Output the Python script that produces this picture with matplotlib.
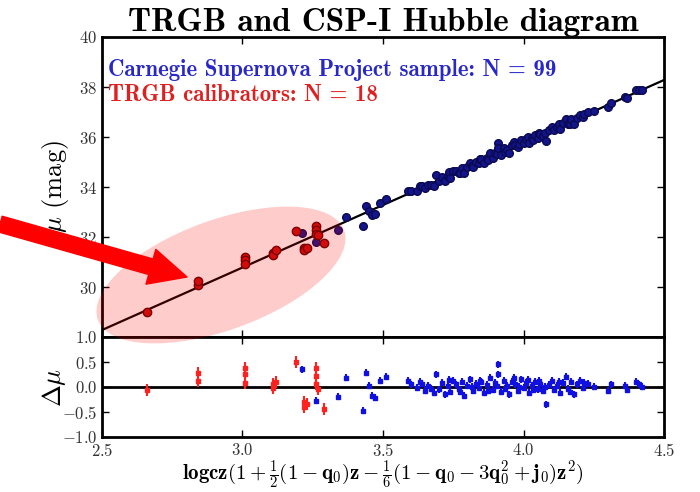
import matplotlib
matplotlib.use("Agg")
import matplotlib.pyplot as plt
import numpy as np
from matplotlib.patches import Ellipse, FancyArrowPatch
from matplotlib.transforms import IdentityTransform

plt.rcParams["font.family"] = "cmr10"
plt.rcParams["mathtext.fontset"] = "cm"
plt.rcParams["axes.formatter.use_mathtext"] = True

# TRGB calibrators: log cz term and Hubble residual
trgb_x = [2.66, 2.84, 2.84, 3.01, 3.01, 3.01, 3.11, 3.11, 3.12,
          3.19, 3.22, 3.22, 3.23, 3.26, 3.26, 3.26, 3.27, 3.29]
trgb_dmu = [-0.07, 0.12, 0.28, 0.38, 0.25, 0.08, 0.05, -0.03, 0.10,
            0.50, -0.30, -0.40, -0.35, 0.38, 0.22, 0.05, -0.05, -0.45]
trgb_err = 0.12

# CSP-I Hubble flow sample
csp_x = [3.21, 3.26, 3.34, 3.37, 3.43, 3.44, 3.45, 3.46, 3.47, 3.49,
         3.51, 3.59, 3.60, 3.62, 3.63, 3.64, 3.65, 3.66, 3.67, 3.68,
         3.69, 3.70, 3.71, 3.72, 3.73, 3.735, 3.74, 3.75, 3.76, 3.77,
         3.775, 3.78, 3.79, 3.80, 3.81, 3.815, 3.82, 3.83, 3.84, 3.845,
         3.85, 3.86, 3.87, 3.875, 3.88, 3.89, 3.90, 3.905, 3.91, 3.91,
         3.92, 3.93, 3.935, 3.94, 3.95, 3.96, 3.965, 3.97, 3.98, 3.985,
         3.99, 4.00, 4.01, 4.015, 4.02, 4.03, 4.035, 4.04, 4.05, 4.055,
         4.06, 4.07, 4.075, 4.08, 4.09, 4.10, 4.11, 4.12, 4.125, 4.13,
         4.14, 4.15, 4.16, 4.165, 4.17, 4.18, 4.19, 4.20, 4.21, 4.215,
         4.23, 4.25, 4.30, 4.31, 4.36, 4.37, 4.40, 4.41, 4.42]
csp_dmu = [0.35, -0.28, -0.20, 0.18, -0.48, 0.28, 0.02, -0.18, -0.22, 0.12,
           0.20, 0.12, 0.05, -0.02, 0.10, 0.06, -0.08, 0.02, -0.04, -0.12,
           0.25, -0.05, 0.08, -0.15, 0.02, 0.14, -0.10, 0.12, 0.05, -0.05,
           -0.10, 0.10, -0.18, 0.02, 0.15, 0.00, -0.08, 0.06, -0.02, 0.12,
           0.10, -0.12, 0.04, -0.08, 0.18, -0.06, 0.08, 0.02, 0.45, 0.25,
           -0.10, 0.12, -0.04, 0.02, -0.15, 0.10, 0.18, 0.05, -0.08, 0.00,
           0.15, -0.02, 0.08, 0.14, -0.12, 0.02, -0.06, 0.10, -0.05, 0.12,
           0.06, -0.08, 0.00, -0.35, 0.04, 0.12, -0.06, 0.02, 0.10, -0.12,
           0.08, 0.20, -0.04, -0.10, 0.10, -0.15, 0.05, 0.12, -0.02, 0.08,
           0.06, 0.00, -0.08, 0.05, 0.02, -0.06, 0.10, 0.05, 0.00]
csp_err = 0.07

# fitted Hubble line: mu = 5 log cz + zp
slope = 5.0
zp = 15.78

trgb_x = np.array(trgb_x)
csp_x = np.array(csp_x)
trgb_mu = slope * trgb_x + zp + np.array(trgb_dmu)
csp_mu = slope * csp_x + zp + np.array(csp_dmu)
xline = np.array([2.5, 4.5])

fig = plt.figure(figsize=(7, 4.92), dpi=100)
ax = fig.add_axes([0.1457, 0.315, 0.8029, 0.6098])
ax2 = fig.add_axes([0.1457, 0.1118, 0.8029, 0.2033])

ax.plot(xline, slope * xline + zp, color="black", lw=1.6, zorder=2)
ax.plot(csp_x, csp_mu, "o", color="#14148c", mec="#0a0a50", ms=5.5, zorder=3)
ax.plot(trgb_x, trgb_mu, "o", color="#c81010", mec="#600000", ms=6, zorder=3)
ax.set_xlim(2.5, 4.5)
ax.set_ylim(28, 40)
ax.set_yticks([30, 32, 34, 36, 38, 40])
ax.set_xticks([2.5, 3.0, 3.5, 4.0, 4.5])
ax.set_xticklabels([])
ax.set_ylabel(r"$\mu$ (mag)", fontsize=19)
ax.yaxis.set_label_coords(-0.055, 0.5)
ax.set_title("TRGB and CSP-I Hubble diagram", fontname="cmb10",
             fontsize=24, pad=4)
ax.text(0.01, 0.87, "Carnegie Supernova Project sample: N = 99",
        transform=ax.transAxes, color="#2828c8", fontname="cmb10",
        fontsize=16.5)
ax.text(0.01, 0.787, "TRGB calibrators: N = 18", transform=ax.transAxes,
        color="#e02020", fontname="cmb10", fontsize=16.5)

ax2.axhline(0, color="black", lw=2, zorder=1)
ax2.errorbar(trgb_x, trgb_dmu, yerr=trgb_err, fmt="s", color="#ff2020",
             ms=3, elinewidth=1.5, capsize=0, zorder=3)
ax2.errorbar(csp_x, csp_dmu, yerr=csp_err, fmt="s", color="#1010e0",
             ms=3, elinewidth=1.5, capsize=0, zorder=3)
ax2.set_xlim(2.5, 4.5)
ax2.set_ylim(-1.0, 1.0)
ax2.set_yticks([-1.0, -0.5, 0.0, 0.5, 1.0])
ax2.set_xticks([2.5, 3.0, 3.5, 4.0, 4.5])
ax2.set_ylabel(r"$\Delta\mu$", fontsize=19)
ax2.yaxis.set_label_coords(-0.06, 0.5)
ax2.set_xlabel(r"$\mathbf{logcz(1+\frac{1}{2}(1-q_0)z-\frac{1}{6}(1-q_0-3q_0^2+j_0)z^2)}$",
               fontsize=15, labelpad=0)

for a in (ax, ax2):
    for s in a.spines.values():
        s.set_linewidth(2)
    a.tick_params(direction="in", top=True, right=True, length=5,
                  width=1, labelsize=12, labelcolor="#333333")

# highlight of the calibrator region, in figure pixels
ell = Ellipse((221, 217), 262, 110, angle=20, transform=IdentityTransform(),
              facecolor=(1, 0, 0, 0.2), edgecolor="none", zorder=5)
fig.add_artist(ell)
arrow = FancyArrowPatch((0, 268), (187, 215), transform=IdentityTransform(),
                        arrowstyle="simple,tail_width=0.58,head_width=1.3,head_length=1.35",
                        mutation_scale=20, color="red", shrinkA=0, shrinkB=0,
                        zorder=6)
fig.add_artist(arrow)

fig.savefig("out.png", dpi=100)
